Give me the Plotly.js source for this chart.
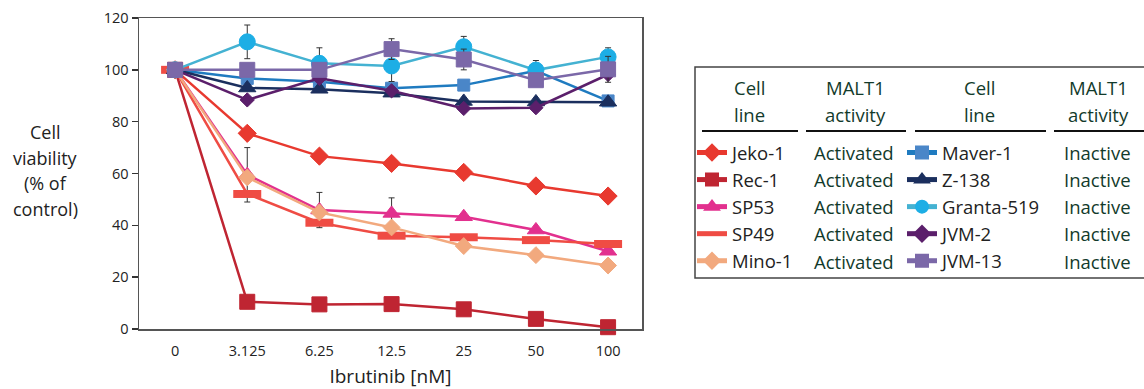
<!DOCTYPE html>
<html>
<head>
<meta charset="utf-8">
<script src="https://cdn.plot.ly/plotly-3.0.1.min.js"></script>
<style>html,body{margin:0;padding:0;background:#fff}#chart{width:1144px;height:389px}</style>
</head>
<body>
<div id="chart"></div>
<script>
// ---- data ----
const doses = ['0', '3.125', '6.25', '12.5', '25', '50', '100'];
const cellLines = ['Jeko-1', 'Rec-1', 'SP53', 'SP49', 'Mino-1', 'Maver-1', 'Z-138', 'Granta-519', 'JVM-2', 'JVM-13'];
const malt1Activity = ['Activated', 'Activated', 'Activated', 'Activated', 'Activated', 'Inactive', 'Inactive', 'Inactive', 'Inactive', 'Inactive'];

const jeko1     = [100, 75.5, 66.7, 63.9, 60.4, 55.2, 51.3];
const rec1      = [100, 10.5, 9.5, 9.6, 7.6, 3.9, 0.7];
const sp53      = [100, 59.5, 45.9, 44.6, 43.3, 38.2, 30.0];
const sp49      = [100, 52.1, 41.0, 36.0, 35.4, 34.3, 32.8];
const mino1     = [100, 58.5, 45.0, 39.2, 32.0, 28.5, 24.5];
const maver1    = [100, 96.7, 95.4, 92.9, 94.1, 99.6, 88.0];
const z138      = [100, 93.0, 92.5, 91.0, 87.8, 87.6, 87.5];
const granta519 = [100, 110.8, 102.5, 101.5, 108.9, 99.9, 105.0];
const jvm2      = [100, 88.4, 96.7, 91.9, 85.1, 85.4, 98.2];
const jvm13     = [100, 100.0, 100.0, 108.0, 104.0, 96.0, 100.2];

// error bars (NaN = none drawn)
const sp53Err   = [NaN, 10.5, 6.8, 6.0, NaN, NaN, NaN];
const maver1Err = [NaN, NaN, NaN, NaN, NaN, 4.0, NaN];
const grantaErr = [NaN, 6.5, 6.0, 6.0, 4.0, NaN, 3.5];
const jvm13Err  = [NaN, NaN, NaN, 4.0, 4.0, NaN, 5.0];

// ---- styling ----
const FONT = 'Open Sans, Lato, sans-serif';
const TXT_GREEN = '#123a2b';
const series = [
  {y: jeko1,     err: null,      line: '#e8392f', mk: '#e8392f', sym: 'diamond',     size: 14, legend: 'legend'},
  {y: rec1,      err: null,      line: '#bf2532', mk: '#bf2532', sym: 'square',      size: 15, legend: 'legend'},
  {y: sp53,      err: sp53Err,   line: '#e2308e', mk: '#e2308e', sym: 'triangle-up', size: 15, legend: 'legend'},
  {y: sp49,      err: null,      line: '#ef4c44', mk: '#ef4c44', sym: 'line-ew',     size: 20, legend: 'legend', thick: 8},
  {y: mino1,     err: null,      line: '#f2a97e', mk: '#f2a97e', sym: 'diamond',     size: 13, legend: 'legend'},
  {y: maver1,    err: maver1Err, line: '#1f7bc0', mk: '#4a86c8', sym: 'square',      size: 12, legend: 'legend2'},
  {y: z138,      err: null,      line: '#1b2f5e', mk: '#1b2f5e', sym: 'triangle-up', size: 15, legend: 'legend2'},
  {y: granta519, err: grantaErr, line: '#44b2d2', mk: '#1daee5', sym: 'circle',      size: 16, legend: 'legend2'},
  {y: jvm2,      err: null,      line: '#5b1f6b', mk: '#5b1f6b', sym: 'diamond',     size: 11, legend: 'legend2'},
  {y: jvm13,     err: jvm13Err,  line: '#7b68a8', mk: '#7b68a8', sym: 'square',      size: 15, legend: 'legend2'}
];

const traces = series.map((s, i) => {
  const t = {
    type: 'scatter', mode: 'lines+markers', x: doses, y: s.y, name: cellLines[i],
    legend: s.legend, legendgroup: 'g' + i, cliponaxis: false,
    line: {color: s.line, width: 2.5},
    marker: {symbol: s.sym, size: s.size, color: s.mk,
             line: {color: s.mk, width: s.thick ? s.thick : 1}}
  };
  if (s.err) t.error_y = {type: 'data', array: s.err, visible: true, color: '#333', thickness: 1, width: 3};
  return t;
});

// plot area in pixels
const L = 139, R = 642, T = 18, B = 329, W = 1144, H = 389;
const px = v => (v - L) / (R - L);
const py = v => (B - v) / (B - T);

const ann = [];
const shapes = [];
// y-axis title
['Cell', 'viability', '(% of', 'control)'].forEach((s, i) => {
  ann.push({xref: 'paper', yref: 'paper', x: px(45), y: py(132 + i * 25.5), text: s, showarrow: false,
            xanchor: 'center', yanchor: 'middle', font: {family: FONT, size: 18, color: '#222'}});
});
// legend table headers
const heads = [[749, 'Cell', 'line'], [855, 'MALT1', 'activity'], [979, 'Cell', 'line'], [1098, 'MALT1', 'activity']];
heads.forEach(h => {
  [h[1], h[2]].forEach((s, j) => {
    ann.push({xref: 'paper', yref: 'paper', x: px(h[0]), y: py(88 + j * 26), text: s, showarrow: false,
              xanchor: 'center', yanchor: 'middle', font: {family: FONT, size: 18.5, color: TXT_GREEN}});
  });
});
// activity column
malt1Activity.forEach((s, i) => {
  const col = i < 5 ? 812 : 1062;
  const row = i % 5;
  ann.push({xref: 'paper', yref: 'paper', x: px(col), y: py(152 + row * 27.3), text: s, showarrow: false,
            xanchor: 'left', yanchor: 'middle', font: {family: FONT, size: 18.5, color: TXT_GREEN}});
});
// header rules
[[702, 798], [806, 906], [915, 1046], [1054, 1144]].forEach(s => {
  shapes.push({type: 'line', xref: 'paper', yref: 'paper', x0: px(s[0]), x1: px(s[1]), y0: py(131), y1: py(131),
               line: {color: '#111', width: 2}});
});
// legend frame
shapes.push({type: 'rect', xref: 'paper', yref: 'paper', x0: px(695), x1: px(1150), y0: py(67), y1: py(278),
             line: {color: '#444', width: 1.5}});

const legendFont = {family: FONT, size: 18.5, color: '#222'};
const layout = {
  width: W, height: H,
  margin: {l: L, r: W - R, t: T, b: H - B},
  paper_bgcolor: '#fff', plot_bgcolor: '#fff',
  font: {family: FONT, color: '#222'},
  xaxis: {
    type: 'category', range: [-0.5, 6.47], showgrid: false, zeroline: false,
    showline: true, mirror: true, linecolor: '#555', linewidth: 1.5, ticks: '',
    tickfont: {family: FONT, size: 14.5, color: '#222'}, ticklabelstandoff: 8,
    title: {text: 'Ibrutinib [nM]', font: {family: FONT, size: 19, color: '#222'}, standoff: 12}
  },
  yaxis: {
    range: [0, 120], tickvals: [0, 20, 40, 60, 80, 100, 120], showgrid: false, zeroline: false,
    showline: true, mirror: true, linecolor: '#555', linewidth: 1.5,
    ticks: 'outside', ticklen: 6, tickcolor: '#333', tickwidth: 1.5,
    tickfont: {family: FONT, size: 14.5, color: '#222'}
  },
  showlegend: true,
  legend: {x: px(692), y: py(134), xanchor: 'left', yanchor: 'top', bgcolor: 'rgba(0,0,0,0)', itemsizing: 'constant',
           borderwidth: 0, font: legendFont, tracegroupgap: 0.3, itemclick: false, traceorder: 'normal'},
  legend2: {x: px(902), y: py(134), xanchor: 'left', yanchor: 'top', bgcolor: 'rgba(0,0,0,0)', itemsizing: 'constant',
            borderwidth: 0, font: legendFont, tracegroupgap: 0.3, itemclick: false, traceorder: 'normal'},
  annotations: ann,
  shapes: shapes
};

Plotly.newPlot('chart', traces, layout, {displayModeBar: false, staticPlot: true});
</script>
</body>
</html>
